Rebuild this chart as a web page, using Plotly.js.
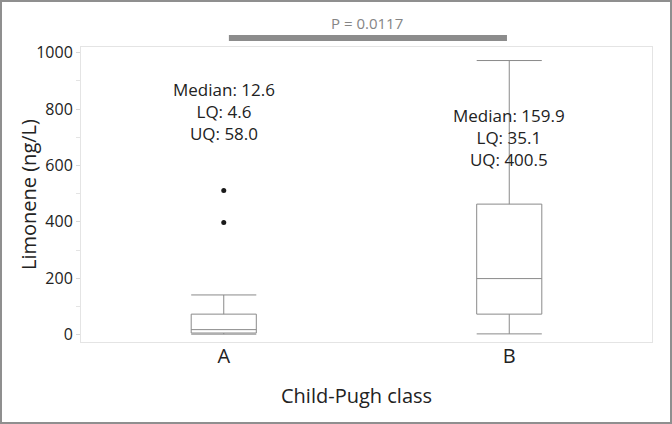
<!DOCTYPE html>
<html>
<head>
<meta charset="utf-8">
<script src="https://cdn.plot.ly/plotly-3.0.1.min.js"></script>
<style>
  html, body { margin: 0; padding: 0; background: #fff; }
  #wrap { position: relative; width: 672px; height: 424px; }
  #chart { width: 672px; height: 424px; }
  #frame { position: absolute; left: 0; top: 0; width: 672px; height: 424px; box-sizing: border-box; border: 2px solid #8f8f8f; pointer-events: none; }
</style>
</head>
<body>
<div id="wrap"><div id="chart"></div><div id="frame"></div></div>
<script>
// Data
const categories = ['A', 'B'];
const q1Values = [6, 73];
const medianValues = [18, 199];
const q3Values = [73, 463];
const lowerFence = [2, 3];
const upperFence = [141, 972];
const outlierCats = ['A', 'A'];
const outlierValues = [398, 511];
const statLabels = [
  'Median: 12.6<br>LQ: 4.6<br>UQ: 58.0',
  'Median: 159.9<br>LQ: 35.1<br>UQ: 400.5'
];
const labelY = [792, 700];
const pText = 'P = 0.0117';
const yTicks = [0, 200, 400, 600, 800, 1000];

const font = "'Open Sans', 'Noto Sans', sans-serif";
const dark = '#222222';

const ML = 81, MR = 20, MT = 47, MB = 82, W = 672, H = 424;
const pw = W - ML - MR, ph = H - MT - MB;
const px2x = px => (px - ML) / pw;
const py2y = py => (H - MB - py) / ph;

const traces = [
  {
    type: 'box',
    x: categories,
    q1: q1Values,
    median: medianValues,
    q3: q3Values,
    lowerfence: lowerFence,
    upperfence: upperFence,
    width: 0.228,
    whiskerwidth: 1,
    boxpoints: false,
    fillcolor: 'rgba(255,255,255,0)',
    line: { color: '#8a8a8a', width: 1 },
    hoverinfo: 'skip',
    showlegend: false
  },
  {
    type: 'scatter',
    mode: 'markers',
    x: outlierCats,
    y: outlierValues,
    marker: { color: '#1a1a1a', size: 5 },
    hoverinfo: 'skip',
    showlegend: false
  }
];

const annotations = categories.map((c, i) => ({
  x: c, y: labelY[i], xref: 'x', yref: 'y',
  text: statLabels[i], showarrow: false,
  align: 'center', xanchor: 'center', yanchor: 'middle',
  font: { family: font, size: 17, color: dark }
}));
annotations.push({
  x: 0.5, y: 1.08, xref: 'paper', yref: 'paper',
  text: pText, showarrow: false, xanchor: 'center', yanchor: 'middle',
  font: { family: font, size: 15, color: '#858585' }
});
annotations.push({
  x: px2x(356), y: py2y(395), xref: 'paper', yref: 'paper',
  text: 'Child-Pugh class', showarrow: false, xanchor: 'center', yanchor: 'middle',
  font: { family: font, size: 20, color: dark }
});
annotations.push({
  x: px2x(28), y: py2y(195), xref: 'paper', yref: 'paper',
  text: 'Limonene (ng/L)', showarrow: false, textangle: -90,
  xanchor: 'center', yanchor: 'middle',
  font: { family: font, size: 20, color: dark }
});

const layout = {
  width: W,
  height: H,
  margin: { l: ML, r: MR, t: MT, b: MB },
  paper_bgcolor: '#fff',
  plot_bgcolor: '#fff',
  font: { family: font, color: dark },
  xaxis: {
    type: 'category',
    categoryorder: 'array',
    categoryarray: categories,
    range: [-0.5, 1.5],
    showgrid: false,
    zeroline: false,
    showline: true,
    mirror: true,
    linecolor: '#e4e4e4',
    linewidth: 1,
    ticks: '',
    tickfont: { family: font, size: 20, color: dark },
    ticklabelstandoff: -4
  },
  yaxis: {
    range: [-25.8, 1020],
    tickvals: yTicks,
    showgrid: false,
    zeroline: false,
    showline: true,
    mirror: true,
    linecolor: '#e4e4e4',
    linewidth: 1,
    ticks: 'outside',
    ticklen: 4,
    tickcolor: '#d8d8d8',
    tickfont: { family: font, size: 16, color: dark },
    minor: { dtick: 100, tick0: 100, ticks: 'outside', ticklen: 4, tickcolor: '#e4e4e4' }
  },
  shapes: [
    {
      type: 'line', xref: 'x', yref: 'paper',
      x0: 0.018, x1: 0.992, y0: py2y(38), y1: py2y(38),
      line: { color: '#8c8c8c', width: 6 }
    }
  ],
  annotations: annotations
};

Plotly.newPlot('chart', traces, layout, { staticPlot: true, displayModeBar: false });
</script>
</body>
</html>
